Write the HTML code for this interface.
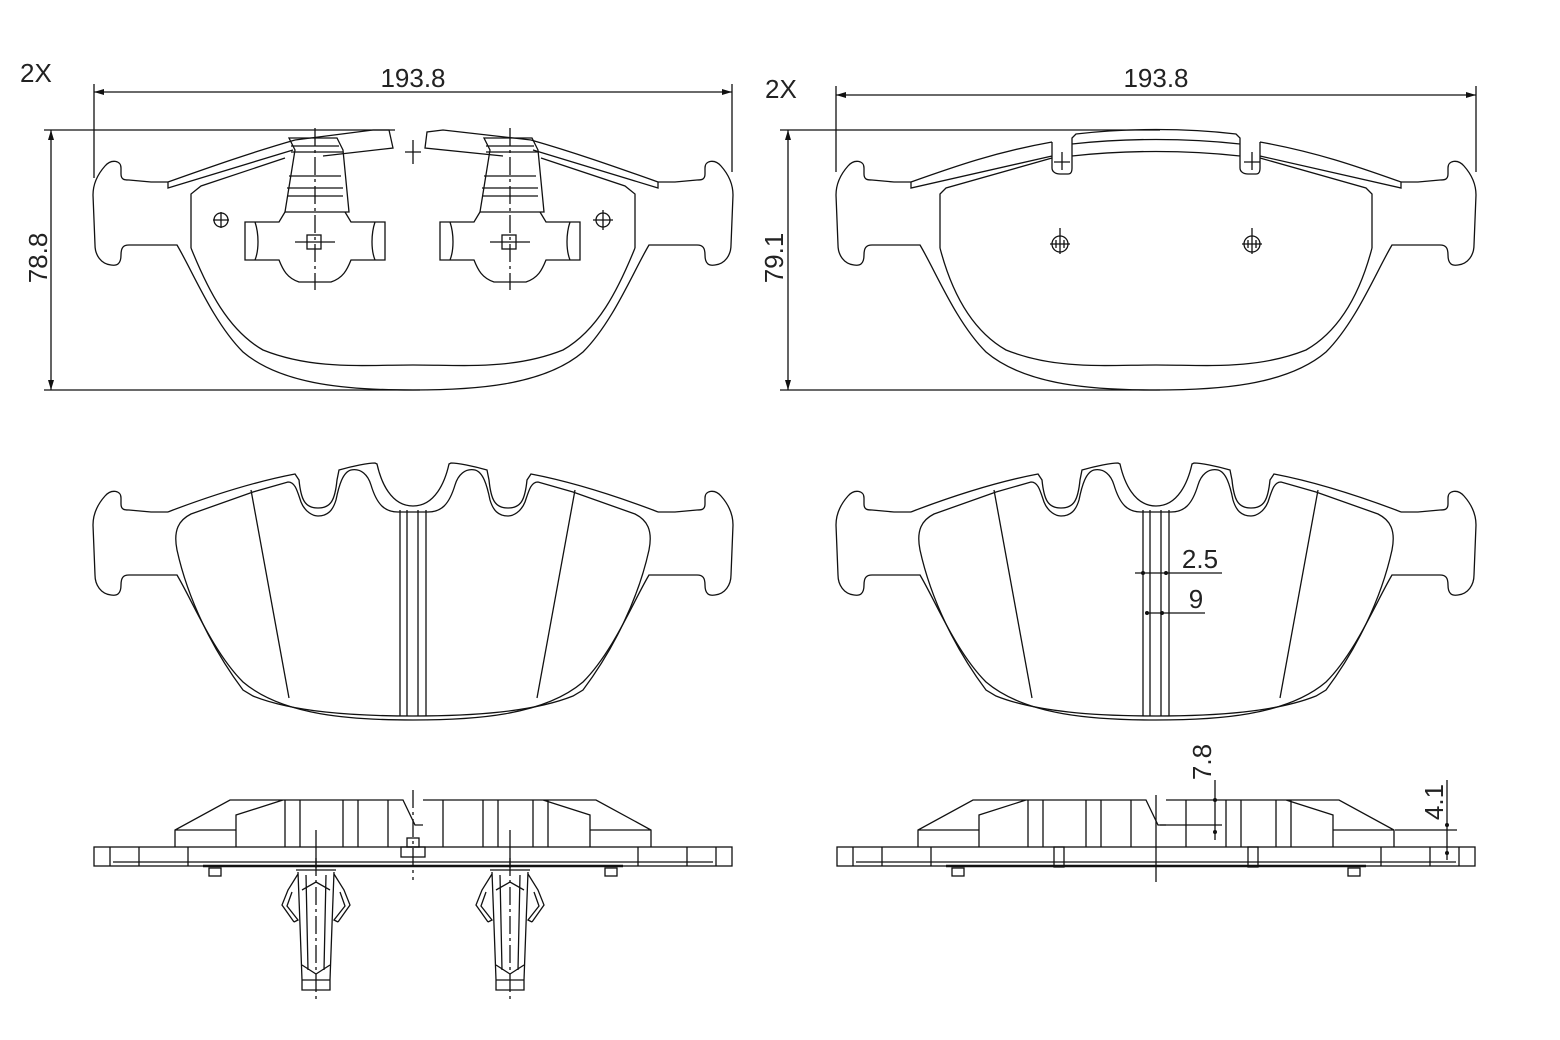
<!DOCTYPE html>
<html><head><meta charset="utf-8"><style>
html,body{margin:0;padding:0;background:#fff;width:1560px;height:1040px;overflow:hidden}
svg{display:block}
text{font-family:"Liberation Sans","DejaVu Sans",sans-serif;fill:#222}
</style></head><body>
<svg width="1560" height="1040" viewBox="0 0 1560 1040" xmlns="http://www.w3.org/2000/svg">
<defs>
<marker id="ar" markerWidth="10" markerHeight="6" refX="10" refY="3" orient="auto-start-reverse" markerUnits="userSpaceOnUse"><path d="M0,0 L10,3 L0,6 z" fill="#111"/></marker>
<path id="half" d="M0,230 C-60,230 -130,226 -170,192 C-200,162 -220,112 -236,85 L-284,85 C-290,85 -292,88 -292,95 C-292,104 -296,106 -302,105 C-312,104 -318,95 -318,85 L-320,35 C-320,25 -316,15 -308,6 C-302,-1 -292,0 -292,8 L-292,14 C-292,20 -288,20 -284,20 L-262,22 L-245,22"/>
<path id="midtop" d="M-245,22 L-240,20 C-200,5 -160,-8 -118,-16 L-114,-10 C-112,10 -108,18 -95,18 C-82,18 -78,10 -76,-10 L-74,-20 C-60,-24 -45,-27 -38,-27 L-36,-26 C-32,-8 -22,16 0,16"/>
<path id="midlin" d="M0,226 C-60,226 -120,222 -160,206 L-170,200 C-200,160 -225,110 -236,60 C-240,40 -234,30 -222,24 L-160,2 L-125,-8 C-118,-8 -116,0 -112,12 C-108,22 -100,26 -95,26 C-85,26 -80,20 -77,10 C-74,-5 -70,-18 -62,-20 C-52,-22 -45,-15 -42,-5 C-36,15 -28,22 -15,22 L0,22"/>
<g id="mid">
 <use href="#half"/><use href="#half" transform="scale(-1,1)"/>
 <use href="#midtop"/><use href="#midtop" transform="scale(-1,1)"/>
 <use href="#midlin"/><use href="#midlin" transform="scale(-1,1)"/>
 <path d="M-162,0 L-124,208 M162,0 L124,208 M-13,20 V226 M-6,20 V226 M5,20 V226 M13,20 V226"/>
</g>
<g id="side">
 <rect x="-319" y="357" width="638" height="19"/>
 <path d="M-303,357 V376 M303,357 V376 M-274,357 V376 M274,357 V376 M-225,357 V376 M225,357 V376 M-300,372 H300"/>
 <path d="M-238,357 V340 L-183,310 H-10 L2,335 H10 M238,357 V340 L183,310 H10 M-177,357 V325 L-130,310 M177,357 V325 L130,310 M-238,340 H-177 M238,340 H177"/>
 <path d="M-128,310 V357 M-113,310 V357 M-70,310 V357 M-55,310 V357 M-25,310 V357 M30,310 V357 M70,310 V357 M85,310 V357 M120,310 V357 M135,310 V357"/>
 <path d="M-210,376 H210" stroke-width="2.5"/>
 <rect x="-204" y="378" width="12" height="8"/><rect x="192" y="378" width="12" height="8"/>
</g>
<g id="clip">
 <path d="M-20,0 H20 M-18,2 L-16,55 L-14,110 H14 L16,55 L18,2 M-14,110 V120 H14 V110 M-10,5 L-8,100 M10,5 L8,100 M-14,20 L0,12 L14,20 M-14,95 L0,104 L14,95"/>
 <path d="M-18,4 L-28,20 L-34,35 L-22,52 M-22,52 L-18,50 L-29,36 L-24,22 M18,4 L28,20 L34,35 L22,52 M22,52 L18,50 L29,36 L24,22"/>
 <path d="M0,-12 V130" stroke-dasharray="18,4,3,4"/>
</g>
<g id="tclip">
 <path d="M-26,-22 H22 L28,-10 L34,52 H-30 L-20,-10 Z M-24,-14 H24 M-24,-8 H28 M-26,16 H26 M-28,28 H28 M-28,36 H28"/>
 <path d="M-30,52 L-36,62 H-70 V100 H-36 C-32,110 -28,118 -16,122 H16 C28,118 32,110 36,100 H70 V62 H36 L30,52 M-60,62 C-56,74 -56,90 -60,100 M60,62 C56,74 56,90 60,100"/>
 <rect x="-8" y="75" width="14" height="14"/><path d="M-20,82 H20"/>
 <path d="M0,-32 V130" stroke-dasharray="18,4,3,4"/>
</g>
</defs>

<g fill="none" stroke="#111" stroke-width="1.3">
<g transform="translate(413,160)">
 <use href="#half"/><use href="#half" transform="scale(-1,1)"/>
 <path d="M-245,22 L-245,28 L-120,-10 M-245,22 C-200,6 -160,-8 -118,-20 M-118,-20 L-40,-30 L-24,-30 L-20,-12 L-90,-4 M245,22 L245,28 L120,-10 M245,22 C200,6 160,-8 118,-20 M118,-20 L30,-30 L14,-28 L12,-12 L90,-4"/>
 <path d="M-222,88 L-222,34 L-212,26 L-128,-2 M222,88 L222,34 L212,26 L128,-2"/>
 <path d="M0,205 C-50,205 -100,210 -150,190 C-185,170 -205,130 -222,88 M0,205 C50,205 100,210 150,190 C185,170 205,130 222,88"/>
 <path d="M0,-20 V4 M-8,-8 H8"/>
 <g transform="translate(-98,0)"><use href="#tclip"/></g>
 <g transform="translate(97,0)"><use href="#tclip"/></g>
 <circle cx="-192" cy="60" r="7"/><path d="M-200,60 H-184 M-192,52 V68"/>
 <circle cx="190" cy="60" r="7"/><path d="M180,60 H200 M190,50 V70"/>
</g>
<g transform="translate(1156,160)">
 <use href="#half"/><use href="#half" transform="scale(-1,1)"/>
 <path d="M-245,22 L-245,28 L-104,-4 M-245,22 C-200,6 -160,-8 -104,-18 M-104,-18 V8 C-104,12 -100,14 -96,14 H-88 C-84,14 -84,10 -84,8 V-22 L-80,-26 C-30,-32 30,-32 80,-26 L84,-22 V8 C84,12 88,14 92,14 H100 C104,14 104,10 104,8 V-18 M104,-18 C160,-8 200,6 245,22 L245,28 L104,-4 M-84,-16 C-30,-22 30,-22 84,-16 M-84,-4 C-30,-10 30,-10 84,-4"/>
 <path d="M-94,-8 V10 M-102,2 H-86 M96,-8 V10 M88,2 H104"/>
 <path d="M-216,88 L-216,34 L-210,28 L-104,-2 M216,88 L216,34 L210,28 L104,-2"/>
 <path d="M0,205 C-50,205 -100,210 -150,190 C-185,170 -205,130 -216,88 M0,205 C50,205 100,210 150,190 C185,170 205,130 216,88"/>
 <circle cx="-96" cy="84" r="8"/><path d="M-106,84 H-86 M-96,68 V94 M-100,80 V88 M-92,80 V88"/>
 <circle cx="96" cy="84" r="8"/><path d="M86,84 H106 M96,68 V94 M92,80 V88 M100,80 V88"/>
</g>
<g transform="translate(413,490)"><use href="#mid"/></g>
<g transform="translate(1156,490)"><use href="#mid"/></g>
<g transform="translate(413,490)"><use href="#side"/>
 <rect x="-12" y="357" width="24" height="10"/><rect x="-6" y="348" width="12" height="9"/>
 <path d="M0,300 V390" stroke-dasharray="18,4,3,4"/>
 <path d="M-97,340 V378 M97,340 V378"/>
</g>
<g transform="translate(316,870)"><use href="#clip"/></g>
<g transform="translate(510,870)"><use href="#clip"/></g>
<g transform="translate(1156,490)"><use href="#side"/>
 <rect x="-102" y="357" width="10" height="20"/><rect x="92" y="357" width="10" height="20"/>
 <path d="M0,305 V392"/>
</g>

<path d="M94,92 H732" marker-start="url(#ar)" marker-end="url(#ar)"/>
<path d="M94,84 V178 M732,84 V172 M44,130 H395 M44,390 H420"/>
<path d="M51,130 V390" marker-start="url(#ar)" marker-end="url(#ar)"/>
<path d="M836,95 H1476" marker-start="url(#ar)" marker-end="url(#ar)"/>
<path d="M836,86 V172 M1476,86 V172 M780,130 H1160 M780,390 H1160"/>
<path d="M788,130 V390" marker-start="url(#ar)" marker-end="url(#ar)"/>
<path d="M1135,573 H1222 M1145,613 H1205" stroke-width="1.2"/>
<path d="M1215,780 V840 M1160,825 H1222 M1447,780 V860 M1395,830 H1457"/>
</g>
<g fill="#111"><circle cx="1143" cy="573" r="2"/><circle cx="1166" cy="573" r="2"/><circle cx="1147" cy="613" r="2"/><circle cx="1162" cy="613" r="2"/><circle cx="1215" cy="800" r="2"/><circle cx="1215" cy="832" r="2"/><circle cx="1447" cy="825" r="2"/><circle cx="1447" cy="853" r="2"/></g>

<g font-size="26">
<text x="20" y="82">2X</text>
<text x="765" y="98">2X</text>
<text x="413" y="87" text-anchor="middle">193.8</text>
<text x="1156" y="87" text-anchor="middle">193.8</text>
<text transform="translate(47,258) rotate(-90)" text-anchor="middle">78.8</text>
<text transform="translate(783,258) rotate(-90)" text-anchor="middle">79.1</text>
<text x="1200" y="568" text-anchor="middle">2.5</text>
<text x="1196" y="608" text-anchor="middle">9</text>
<text transform="translate(1211,762) rotate(-90)" text-anchor="middle">7.8</text>
<text transform="translate(1443,802) rotate(-90)" text-anchor="middle">4.1</text>
</g>
</svg>
</body></html>
